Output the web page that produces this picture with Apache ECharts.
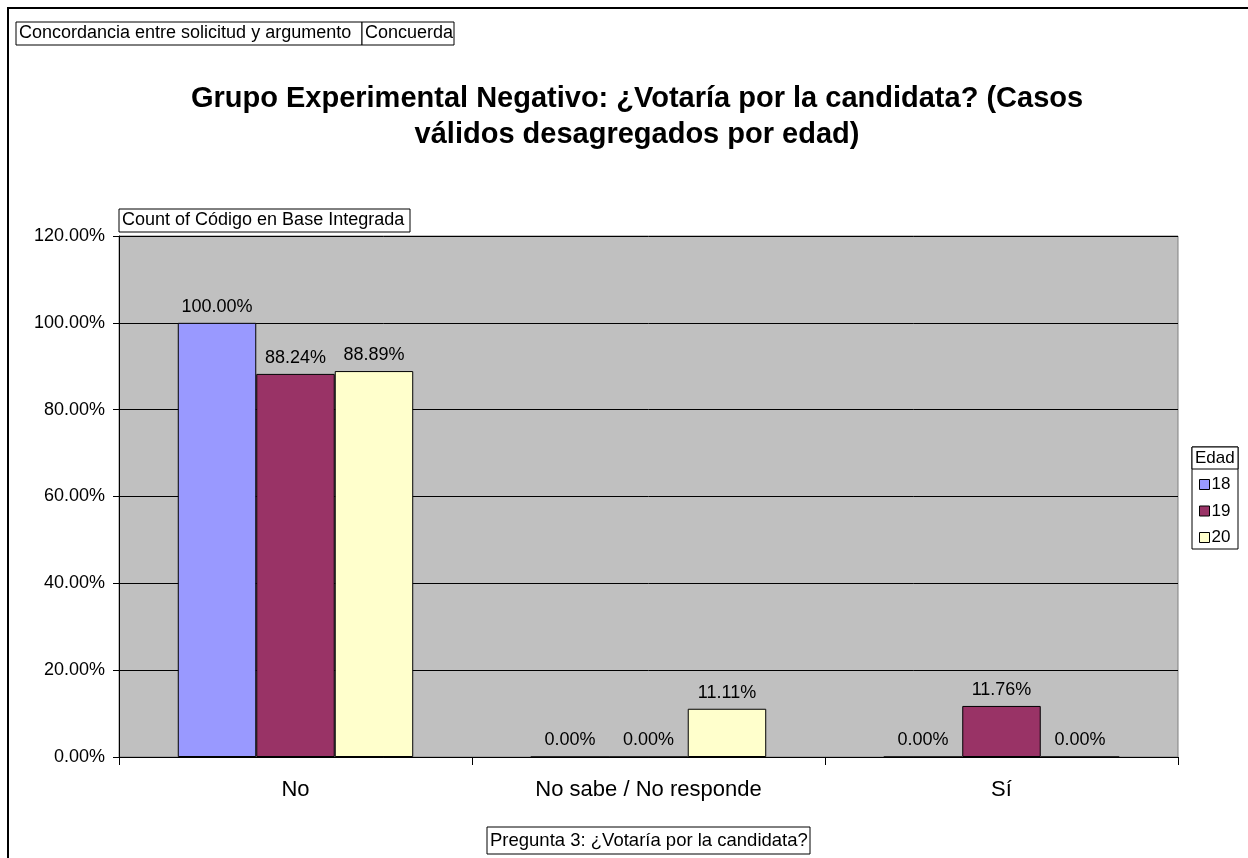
<!DOCTYPE html>
<html><head><meta charset="utf-8">
<script src="https://cdn.jsdelivr.net/npm/echarts@6/dist/echarts.min.js"></script>
<style>html,body{margin:0;padding:0;background:#fff}#c{width:1248px;height:858px}</style>
</head><body><div id="c"></div>
<script>
const categories = ['No', 'No sabe / No responde', 'Sí'];
const seriesNames = ['18', '19', '20'];
const values18 = [1.0, 0.0, 0.0];
const values19 = [0.8824, 0.0, 0.1176];
const values20 = [0.8889, 0.1111, 0.0];
const yTicks = [0, 0.2, 0.4, 0.6, 0.8, 1.0, 1.2];
const colors = ['#9999FF', '#993366', '#FFFFCC'];

const F = 'Liberation Sans, Arial, sans-serif';
const chart = echarts.init(document.getElementById('c'));
const pct = v => (v * 100).toFixed(2) + '%';
function mk(name, data, color) {
  return {
    name, type: 'bar', data, barGap: 0, barCategoryGap: '33.3%',
    itemStyle: { color, borderColor: '#000', borderWidth: 1 },
    label: { show: true, position: 'top', distance: 7, formatter: p => pct(p.value),
      fontFamily: F, fontSize: 18, color: '#000' }
  };
}
function box(x, y, w, h, text, font) {
  return [
    { type: 'rect', shape: { x, y, width: w, height: h }, style: { fill: '#fff', stroke: '#000', lineWidth: 1 } },
    { type: 'text', x: x + 3, y: y + h / 2, style: { text, font: font || ('18px ' + F), fill: '#000', verticalAlign: 'middle' } }
  ];
}
chart.setOption({
  animation: false,
  backgroundColor: '#fff',
  title: {
    text: 'Grupo Experimental Negativo: ¿Votaría por la candidata? (Casos\nválidos desagregados por edad)',
    left: 632, textAlign: 'center', top: 76,
    textStyle: { fontFamily: F, fontSize: 29, fontWeight: 'bold', color: '#000', lineHeight: 36 }
  },
  grid: { left: 119, top: 236, right: 70, bottom: 101, show: true, backgroundColor: '#C0C0C0', borderColor: '#808080', borderWidth: 1 },
  legend: {
    orient: 'vertical', left: 1194, top: 471, itemWidth: 10, itemHeight: 10, itemGap: 9.5,
    icon: 'rect', data: seriesNames,
    textStyle: { fontFamily: F, fontSize: 17, lineHeight: 17, color: '#000', padding: [0, 0, 0, -3] },
    itemStyle: { borderColor: '#000', borderWidth: 1 }
  },
  xAxis: {
    type: 'category', data: categories,
    axisLine: { lineStyle: { color: '#000', width: 1 } },
    axisTick: { show: true, length: 8, lineStyle: { color: '#000' } },
    axisLabel: { fontFamily: F, fontSize: 22, color: '#000', margin: 22 }
  },
  yAxis: {
    type: 'value', min: yTicks[0], max: yTicks[yTicks.length - 1], interval: 0.2,
    axisLine: { show: true, lineStyle: { color: '#000' } },
    axisTick: { show: true, length: 6, lineStyle: { color: '#000' } },
    axisLabel: { fontFamily: F, fontSize: 18, color: '#000', margin: 14, formatter: v => pct(v) },
    splitLine: { lineStyle: { color: '#000', width: 1 } }
  },
  series: [mk(seriesNames[0], values18, colors[0]), mk(seriesNames[1], values19, colors[1]), mk(seriesNames[2], values20, colors[2])],
  graphic: [
    { type: 'rect', z: -10, shape: { x: 8, y: 8, width: 1400, height: 1000 }, style: { fill: null, stroke: '#000', lineWidth: 2 } },
    ...box(16, 22, 346, 23, 'Concordancia entre solicitud y argumento'),
    ...box(362, 22, 92, 23, 'Concuerda'),
    ...box(119, 209, 291, 23, 'Count of Código en Base Integrada'),
    ...box(487, 827, 323, 27, 'Pregunta 3: ¿Votaría por la candidata?', '18.5px ' + F),
    { type: 'rect', shape: { x: 1192, y: 447, width: 46, height: 102 }, style: { fill: '#fff', stroke: '#000', lineWidth: 1 }, z: -1 },
    { type: 'rect', shape: { x: 1192, y: 447, width: 46, height: 22 }, style: { fill: '#fff', stroke: '#000', lineWidth: 1 }, z: -1 },
    { type: 'text', x: 1195, y: 458, style: { text: 'Edad', font: '17px ' + F, fill: '#000', verticalAlign: 'middle' } }
  ]
});
</script></body></html>
